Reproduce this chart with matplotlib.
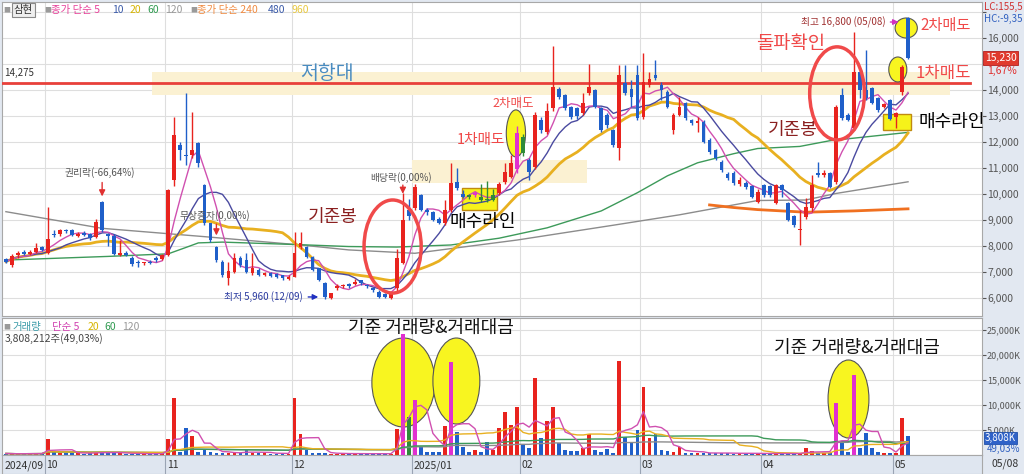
import matplotlib
matplotlib.use('Agg')
import matplotlib.pyplot as plt
from matplotlib.patches import Ellipse, Rectangle
import numpy as np
import pandas as pd

plt.rcParams['font.family'] = ['Noto Sans CJK KR', 'DejaVu Sans']

# daily candles, 2024/09 ~ 2025/05/08
month_labels = ['2024/09', '10', '11', '12', '2025/01', '02', '03', '04', '05']
month_start = [0, 7, 27, 48, 68, 86, 106, 126, 148]

opens = [7500, 7280, 7650, 7780, 7700, 7780, 7950,
         7750, 8480, 8450, 8600, 8620, 8380, 8500, 8460, 8350, 9700, 8450, 8400, 7650, 7750, 7550, 7400, 7330, 7400, 7550, 7500,
         7650, 10540, 11880, 11500, 11500, 11950, 10350, 8870, 7975, 7400, 6760, 7010, 7530, 7460, 6950, 7080, 6890, 6970, 6920, 6880, 6740,
         6820, 7975, 7975, 7590, 7140, 6560, 6000, 6400, 6450, 6530, 6540, 6680, 6500, 6400, 6250, 6150, 6000, 6390, 7350, 9400,
         9450, 9960, 9400, 9320, 9050, 8870, 9385, 10470, 10000, 9950, 9960, 9900, 9820, 9780, 10025, 10475, 10667, 10950,
         12200, 11300, 11050, 12850, 12400, 13300, 14030, 13800, 13360, 13300, 13100, 13870, 14000, 13300, 13040, 12460, 11760, 14260, 14030, 14580,
         12970, 14190, 14580, 14200, 13940, 12460, 13040, 13490, 12850, 12720, 12780, 12080, 11690, 11240, 10770, 10820, 10380, 10440, 10310, 9700,
         10350, 10300, 9640, 10350, 9670, 9150, 8600, 9130, 9450, 10800, 10730, 10800, 10470, 13810, 13040, 12530, 14700, 14000, 14060, 13680, 13360, 13610,
         12970, 13940, 16760]
closes = [7400, 7600, 7720, 7700, 7780, 7920, 7850,
          8280, 8420, 8600, 8560, 8420, 8480, 8420, 8300, 8930, 8620, 8380, 7700, 7720, 7650, 7300, 7350, 7370, 7340, 7450, 7650,
          10150, 12270, 11690, 11450, 11690, 11180, 8870, 8230, 7460, 6890, 7050, 7530, 7270, 7010, 7140, 6890, 6970, 6850, 6820, 6760, 6820,
          7720, 8100, 7590, 7080, 6690, 6050, 6180, 6450, 6500, 6450, 6630, 6560, 6450, 6300, 6050, 6050, 6180, 7540, 9000, 9150,
          10280, 9385, 9300, 9000, 8900, 9385, 10410, 10220, 9900, 9880, 10020, 9780, 9760, 9950, 10385, 10860, 11180, 12330,
          11560, 10860, 13040, 12450, 13200, 14130, 13750, 13300, 12980, 13000, 13490, 14130, 13360, 12460, 12650, 11880, 14580, 13870, 13740, 12910,
          14320, 14410, 14450, 14000, 13360, 13040, 13360, 12910, 12720, 12800, 12010, 11630, 11370, 10920, 10600, 10410, 10540, 10260, 9900, 10090,
          9960, 9960, 10350, 10150, 9000, 8810, 8650, 9510, 10350, 10730, 10800, 10280, 13360, 12910, 12850, 14700, 14000, 13690, 13490, 13230, 13450, 12870,
          13100, 14900, 15230]
highs = [7550, 7700, 7800, 7830, 7830, 8130, 8000,
         9490, 8600, 8650, 8650, 8650, 8550, 8580, 8500, 9050, 9750, 8500, 8450, 8230, 7800, 7600, 7450, 7400, 7450, 7600, 7700,
         10200, 12980, 12000, 13870, 13170, 12000, 10400, 8900, 8000, 7450, 7400, 7720, 7600, 7720, 7720, 7150, 7000, 7000, 6950, 6900, 6880,
         8550, 8550, 8000, 7600, 7150, 6600, 6200, 6550, 6550, 6580, 6750, 6700, 6550, 6420, 6300, 6200, 6250, 7900, 10020, 9800,
         10400, 10000, 9450, 9350, 9100, 9780, 11180, 11000, 10150, 10000, 10100, 10400, 10500, 10200, 10450, 11200, 11500, 12600,
         12300, 11400, 13150, 12950, 13500, 15700, 14100, 13850, 13400, 13350, 13900, 15000, 14050, 13350, 13100, 12500, 14960, 14960, 14400, 14960,
         15410, 14700, 15150, 14300, 14000, 13100, 13750, 13550, 12900, 12950, 12850, 12150, 11750, 11300, 10850, 10900, 10650, 10500, 10350, 10200,
         10400, 10350, 10400, 10400, 9700, 9200, 9380, 9830, 10730, 11240, 10920, 10850, 13420, 14070, 13100, 16240, 14770, 15540, 14100, 13720, 13500, 13650,
         13150, 14950, 16800]
lows = [7350, 7200, 7550, 7650, 7650, 7750, 7800,
        7700, 8350, 8400, 8500, 8380, 8330, 8380, 8250, 8300, 8550, 8000, 7650, 7600, 7600, 7250, 7200, 7280, 7300, 7400, 7450,
        7600, 10300, 11310, 11115, 11400, 11030, 8800, 8150, 7400, 6800, 6500, 6950, 7200, 6950, 6900, 6850, 6850, 6800, 6780, 6700, 6700,
        6800, 7900, 7550, 7050, 6650, 5960, 5980, 6300, 6400, 6400, 6500, 6500, 6400, 6250, 6000, 6000, 5980, 6180, 7300, 9000,
        9400, 9350, 9200, 8950, 8850, 8800, 9300, 10150, 9850, 9820, 9900, 9700, 9700, 9750, 9950, 10400, 10600, 10800,
        11450, 10540, 10950, 12350, 12300, 13200, 13650, 13250, 12900, 12900, 13050, 13800, 13300, 12400, 12550, 11800, 11300, 13800, 13350, 12850,
        12900, 14100, 14400, 13600, 13300, 12300, 13000, 12850, 12650, 12400, 11950, 11550, 11300, 10850, 10550, 10350, 10300, 10200, 9850, 9650,
        9900, 9900, 9600, 9900, 8950, 8750, 8040, 9050, 9300, 10650, 10650, 10250, 10400, 12850, 12800, 12450, 13680, 13600, 13450, 13150, 13300, 12850,
        12520, 13800, 15200]
# volume in thousand shares
volumes = [300, 250, 200, 300, 250, 350, 300,
           3300, 600, 500, 450, 400, 350, 300, 350, 700, 600, 400, 350, 450, 300, 250, 300, 250, 200, 300, 350,
           3300, 11460, 700, 5450, 3850, 700, 1200, 600, 500, 450, 400, 500, 350, 1100, 450, 400, 350, 300, 300, 350, 300,
           11330, 4200, 1000, 450, 400, 350, 300, 300, 250, 250, 300, 250, 250, 250, 300, 250, 200, 5200, 24130, 7660,
           11000, 1650, 650, 650, 550, 5860, 18670, 4650, 1530, 530, 930, 650, 2530, 1000, 5330, 8660, 6000, 9660,
           2120, 1450, 15330, 3330, 6790, 9530, 2330, 1000, 800, 800, 1330, 4120, 1000, 670, 1200, 450, 18860, 3520, 2330, 5000,
           13700, 3450, 4120, 1100, 800, 700, 1530, 450, 400, 350, 450, 400, 350, 400, 350, 300, 350, 300, 300, 300,
           250, 300, 350, 300, 300, 250, 250, 1330, 800, 450, 450, 330, 10330, 2650, 530, 16000, 1330, 4330, 1330, 530, 450, 330,
           330, 7330, 3808]

# long moving averages (need history before the window) read at a few points
ma60_x = [0, 17, 27, 30, 32, 36, 49, 57, 65, 74, 82, 90, 99, 105, 110, 115, 121, 125, 132, 137, 150]
ma60_y = [7460, 7600, 7700, 7950, 8120, 8150, 8050, 7980, 7960, 8040, 8300, 8700, 9350, 10050, 10700, 11200, 11550, 11750, 11830, 12050, 12370]
ma120_x = [0, 16, 33, 49, 57, 68, 85, 101, 112, 125, 133, 138, 150]
ma120_y = [9320, 8680, 8360, 8040, 7850, 7720, 8230, 8800, 9200, 9750, 9770, 10020, 10470]
ma240_x = [117, 121, 125, 133, 141, 150]
ma240_y = [9580, 9480, 9400, 9300, 9350, 9430]

magenta_candles = [78, 85]
green_candles = [77, 79, 80, 81, 86]
magenta_vol = [66, 68, 74, 138, 141]
green_vol = [67]

RED = '#e8231e'
BLUE = '#1f5fc9'
MAG = '#e030d0'
GRN = '#2f8a3a'

o = np.array(opens, float)
c = np.array(closes, float)
h = np.array(highs, float)
l = np.array(lows, float)
v = np.array(volumes, float)
idx = np.arange(len(c))

cs = pd.Series(c)
ma5 = cs.rolling(5, min_periods=1).mean()
ma10 = cs.rolling(10, min_periods=1).mean()
ma20 = cs.rolling(20, min_periods=1).mean()
vs = pd.Series(v)
vma5 = vs.rolling(5, min_periods=1).mean()
vma20 = vs.rolling(20, min_periods=1).mean()
vma60 = vs.rolling(60, min_periods=1).mean()
vma120 = vs.rolling(120, min_periods=1).mean()

fig = plt.figure(figsize=(10.24, 4.74), dpi=100)
fig.patch.set_facecolor('#e2e8f1')


def frame(x0, y0, x1, y1):
    return [x0 / 1024, 1 - y1 / 474, (x1 - x0) / 1024, (y1 - y0) / 474]


def ftext(x, y, s, **kw):
    fig.text(x / 1024, 1 - y / 474, s, va='center', **kw)


XL = (-0.65, 162.3)
bounds = [s - 0.5 for s in month_start[1:]]

# ---------------- price panel ----------------
ax = fig.add_axes(frame(2, 2, 982, 316))
ax.set_facecolor('white')
ax.set_xlim(*XL)
ax.set_ylim(5308, 17385)
ax.set_xticks(bounds)
yt = list(range(6000, 17001, 1000))
ax.set_yticks(yt)
ax.set_yticklabels(['' if t in (15000, 17000) else f'{t:,}' for t in yt])
ax.yaxis.tick_right()
ax.tick_params(axis='x', length=0, labelbottom=False)
ax.tick_params(axis='y', direction='out', length=3, pad=1, labelsize=7.5, colors='#555555')
ax.grid(color='#dedede', lw=0.8)
ax.set_axisbelow(True)
for s in ax.spines.values():
    s.set_color('#a8a8a8')
    s.set_linewidth(0.8)

# resistance zones
ax.add_patch(Rectangle((24.3, 13810), 132.7, 900, fc='#fbf1d2', ec='none', zorder=1))
ax.add_patch(Rectangle((67.5, 10420), 29.1, 890, fc='#fbf1d2', ec='none', zorder=1))
ax.plot([XL[0], 160.3], [14275, 14275], color='#e8403a', lw=2, zorder=3)
ax.text(-0.3, 14660, '14,275', fontsize=7, color='#333333', va='center', zorder=8)

# buy zones
ax.add_patch(Rectangle((75.8, 9385), 5.8, 845, fc='#f6f21a', ec='#c08a10', lw=1, zorder=2))
ax.add_patch(Rectangle((145.8, 12460), 4.7, 600, fc='#f6f21a', ec='#c08a10', lw=1, zorder=2))

# moving averages
ax.plot(ma120_x, ma120_y, color='#8c8c8c', lw=1, zorder=3)
ax.plot(ma60_x, ma60_y, color='#3d9a5a', lw=1, zorder=3)
ax.plot(ma240_x, ma240_y, color='#f07020', lw=2, zorder=3)
ax.plot(idx, ma20, color='#e8b020', lw=2, zorder=3)
ax.plot(idx, ma10, color='#4a4aa0', lw=1, zorder=3)
ax.plot(idx, ma5, color='#d050b0', lw=1, zorder=3)

# yellow sell ellipses (behind candles)
for (cx, cy, ew, eh) in [(84.8, 12330, 3.2, 1810), (149.7, 16385, 3.7, 770), (148.3, 14790, 3.0, 960)]:
    ax.add_patch(Ellipse((cx, cy), ew, eh, fc='#f8f520', ec='#555555', lw=0.8, zorder=4))

# candles
cols = np.where(c >= o, RED, BLUE).astype(object)
for i in magenta_candles:
    cols[i] = MAG
for i in green_candles:
    cols[i] = GRN
body_lo = np.minimum(o, c)
body_h = np.maximum(np.abs(c - o), 45)
ax.vlines(idx, l, h, colors=list(cols), lw=1, zorder=5)
ax.bar(idx, body_h, bottom=body_lo, width=0.62, color=list(cols), zorder=6)

# red circles
ax.add_patch(Ellipse((64.3, 7980), 9.5, 3580, fill=False, ec='#f04a4a', lw=2.5, zorder=7))
ax.add_patch(Ellipse((138.2, 13870), 9.1, 3580, fill=False, ec='#f04a4a', lw=2.5, zorder=7))

# annotations
ax.text(53.4, 14650, '저항대', fontsize=14, color='#4a8cc0', ha='center', va='center', zorder=8)
ax.text(54.4, 9120, '기준봉', fontsize=13, color='#8b2020', ha='center', va='center', zorder=8)
ax.text(79.3, 8920, '매수라인', fontsize=13, color='black', ha='center', va='center', zorder=8)
ax.text(84.3, 13500, '2차매도', fontsize=9, color='#f04848', ha='center', va='center', zorder=8)
ax.text(79.0, 12080, '1차매도', fontsize=10.5, color='#f04848', ha='center', va='center', zorder=8)
ax.text(130.5, 15770, '돌파확인', fontsize=13.5, color='#f04848', ha='center', va='center', zorder=8)
ax.text(130.9, 12460, '기준봉', fontsize=13, color='#8b2020', ha='center', va='center', zorder=8)
ax.text(157.3, 12770, '매수라인', fontsize=13, color='black', ha='center', va='center', zorder=8, clip_on=False)
ax.text(156.2, 16500, '2차매도', fontsize=11, color='#f04848', ha='center', va='center', zorder=8)
ax.text(155.8, 14650, '1차매도', fontsize=12, color='#f04848', ha='center', va='center', zorder=8)

small = dict(fontsize=7, color='#555555', ha='center', va='center', zorder=8)
ax.text(15.6, 10810, '권리락(-66,64%)', **small)
ax.text(34.8, 9190, '무상증자(0,00%)', **small)
ax.text(65.7, 10650, '배당락(0,00%)', **small)
arrow = dict(arrowstyle='-|>', color='#e03030', lw=1, mutation_scale=9)
ax.annotate('', xy=(16, 9800), xytext=(16, 10550), arrowprops=arrow, zorder=8)
ax.annotate('', xy=(35, 8300), xytext=(35, 8950), arrowprops=arrow, zorder=8)
ax.annotate('', xy=(66, 9900), xytext=(66, 10450), arrowprops=arrow, zorder=8)

ax.text(49.4, 6040, '최저 5,960 (12/09)', fontsize=7, color='#2a3aa0', ha='right', va='center', zorder=8)
ax.annotate('', xy=(52.4, 6040), xytext=(49.8, 6040),
            arrowprops=dict(arrowstyle='-|>', color='#2030c0', lw=1, mutation_scale=8), zorder=8)
ax.text(146.2, 16615, '최고 16,800 (05/08)', fontsize=7, color='#a03030', ha='right', va='center', zorder=8)
ax.annotate('', xy=(148.9, 16615), xytext=(146.6, 16615),
            arrowprops=dict(arrowstyle='-|>', color='#d030c0', lw=1, mutation_scale=8), zorder=8)

# header legend
ftext(3, 10, '■', fontsize=5, color='#9a9a9a')
ftext(14, 10, '삼현', fontsize=7.5, color='#333333',
      bbox=dict(boxstyle='square,pad=0.15', fc='#efefef', ec='#8a8a8a', lw=0.8))
ftext(44, 10, '■', fontsize=5, color='#9a9a9a')
ftext(51, 10, '종가 단순 5', fontsize=7.5, color='#e8409a')
ftext(112, 10, '10', fontsize=7.5, color='#3a5aa8')
ftext(130, 10, '20', fontsize=7.5, color='#d6b400')
ftext(147, 10, '60', fontsize=7.5, color='#2f9a50')
ftext(165, 10, '120', fontsize=7.5, color='#999999')
ftext(190, 10, '■', fontsize=5, color='#9a9a9a')
ftext(197, 10, '종가 단순 240', fontsize=7.5, color='#f08a40')
ftext(268, 10, '480', fontsize=7.5, color='#3a5aa8')
ftext(292, 10, '960', fontsize=7.5, color='#e8c840')

# right side price labels
ftext(984, 7, 'LC:155,5', fontsize=7, color='#d03030')
ftext(984, 19, 'HC:-9,35', fontsize=7, color='#3060c0')
ftext(985, 58, '15,230', fontsize=7.5, color='white',
      bbox=dict(boxstyle='square,pad=0.15', fc='#e03a2e', ec='#b02020', lw=0.6))
ftext(987, 71, '1,67%', fontsize=7.5, color='#e03030')

# ---------------- volume panel ----------------
vax = fig.add_axes(frame(2, 318, 982, 455))
vax.set_facecolor('white')
vax.set_xlim(*XL)
vax.set_ylim(0, 27400)
vax.set_xticks(bounds)
vt = [5000, 10000, 15000, 20000, 25000]
vax.set_yticks(vt)
vax.set_yticklabels([f'{t:,}K' for t in vt])
vax.yaxis.tick_right()
vax.tick_params(axis='x', length=0, labelbottom=False)
vax.tick_params(axis='y', direction='out', length=3, pad=0.5, labelsize=6.5, colors='#555555')
vax.grid(color='#dedede', lw=0.8)
vax.set_axisbelow(True)
for s in vax.spines.values():
    s.set_color('#a8a8a8')
    s.set_linewidth(0.8)

for (cx, cy, ew, eh) in [(66.1, 14500, 10.5, 17800), (74.9, 14800, 7.8, 17200), (140.1, 11200, 6.8, 15600)]:
    vax.add_patch(Ellipse((cx, cy), ew, eh, fc='#f8f520', ec='#555555', lw=0.8, zorder=2))

vcols = np.where(c >= o, RED, BLUE).astype(object)
for i in magenta_vol:
    vcols[i] = MAG
for i in green_vol:
    vcols[i] = GRN
vax.bar(idx, v, width=0.62, color=list(vcols), zorder=3)
vax.plot(idx, vma120, color='#8c8c8c', lw=1, zorder=4)
vax.plot(idx, vma60, color='#3d9a5a', lw=1, zorder=4)
vax.plot(idx, vma20, color='#e8b020', lw=1, zorder=4)
vax.plot(idx, vma5, color='#d050b0', lw=1, zorder=4)

vax.text(70.6, 25400, '기준 거래량&거래대금', fontsize=13, color='#111111', ha='center', va='center', zorder=6)
vax.text(141.5, 21400, '기준 거래량&거래대금', fontsize=13, color='#111111', ha='center', va='center', zorder=6)

ftext(3, 327, '■', fontsize=5, color='#9a9a9a')
ftext(12, 327, '거래량', fontsize=7.5, color='#3a9aa8')
ftext(52, 327, '단순 5', fontsize=7.5, color='#d040b0')
ftext(88, 327, '20', fontsize=7.5, color='#d6b400')
ftext(104, 327, '60', fontsize=7.5, color='#2f9a50')
ftext(122, 327, '120', fontsize=7.5, color='#999999')
ftext(5, 339, '3,808,212주(49,03%)', fontsize=7.5, color='#444444')

ftext(985, 438, '3,808K', fontsize=7, color='white',
      bbox=dict(boxstyle='square,pad=0.15', fc='#2f62c8', ec='#2050a8', lw=0.6))
ftext(987, 449, '49,03%', fontsize=7, color='#3060c0')

# ---------------- date strip ----------------
dax = fig.add_axes(frame(2, 455, 982, 474))
dax.set_facecolor('#dfe6f0')
dax.set_xlim(*XL)
dax.set_ylim(0, 1)
dax.set_xticks([])
dax.set_yticks([])
for s in dax.spines.values():
    s.set_color('#a8a8a8')
    s.set_linewidth(0.8)
for b in bounds:
    dax.axvline(b, color='#9aa4b4', lw=0.8)
for s0, lab in zip(month_start, month_labels):
    dax.text(s0 - 0.25, 0.45, lab, fontsize=7.5, color='#333333', va='center')
ftext(991, 464, '05/08', fontsize=7.5, color='#333333')

fig.savefig('out.png', dpi=100, facecolor=fig.get_facecolor())
